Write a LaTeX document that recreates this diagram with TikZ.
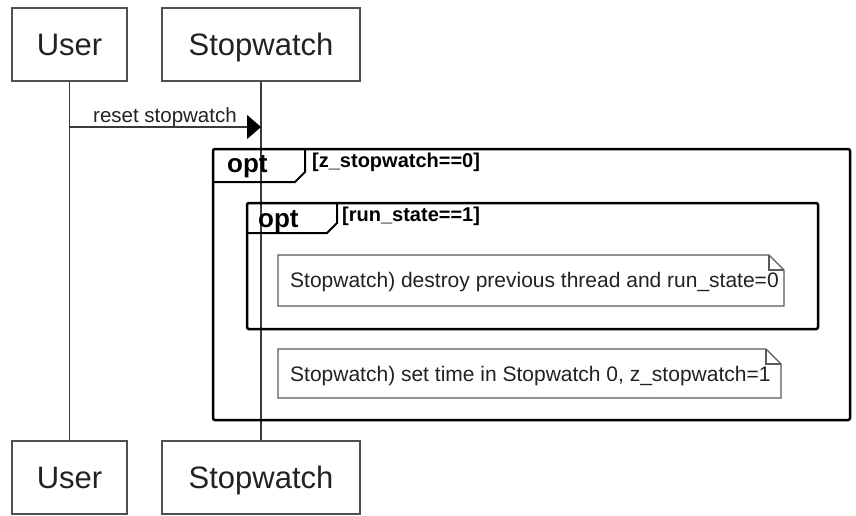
\documentclass[tikz,border=0pt]{standalone}
\usepackage{fontspec}
\setmainfont{Liberation Sans}
\usetikzlibrary{arrows.meta}
\definecolor{boxgray}{HTML}{505050}
\definecolor{linegray}{HTML}{3A3A3A}
\definecolor{notegray}{HTML}{5A5A5A}
\definecolor{txt}{HTML}{222222}
\begin{document}
\begin{tikzpicture}[x=1pt,y=-1pt,
  participant/.style={draw=boxgray, line width=1.3pt, minimum width=#1, minimum height=73pt,
    inner sep=0pt, text=txt, font=\fontsize{31}{31}\selectfont, text height=22pt, text depth=0pt},
  lifeline/.style={draw=linegray, line width=1.4pt},
  msg/.style={draw=linegray, line width=1.3pt, -{Triangle[length=14pt,width=24pt,color=black]}},
  msglabel/.style={inner sep=0pt, text=txt, font=\fontsize{20.5}{20.5}\selectfont},
  framebox/.style={draw=black, line width=2.5pt, rounded corners=2pt, inner sep=0pt},
  tabline/.style={draw=black, line width=2pt},
  optlabel/.style={inner sep=0pt, text=black, font=\fontsize{26}{26}\selectfont\bfseries},
  condlabel/.style={inner sep=0pt, text=black, font=\fontsize{20}{20}\selectfont\bfseries},
  noteshape/.style={draw=notegray, line width=1.2pt, fill=white},
  notetext/.style={inner sep=0pt, text=txt, font=\fontsize{21}{21}\selectfont}
]
\useasboundingbox (0,0) rectangle (856,515);

% participants
\node[participant=115pt] (ut) at (69.5,44.5) {User};
\node[participant=198pt] (st) at (261,44.5) {Stopwatch};
\node[participant=115pt] (ub) at (69.5,477.5) {User};
\node[participant=198pt] (sb) at (261,477.5) {Stopwatch};

% lifelines
\draw[lifeline] (ut.south) -- (ub.north);
\draw[lifeline] (st.south) -- (sb.north);

% message
\coordinate (ms) at (69.5,127);
\coordinate (me) at (261,127);
\draw[msg] (ms) -- (me);
\node[msglabel, anchor=base west] (ml) at (93,122) {reset stopwatch};

% outer frame
\node[framebox, minimum width=637pt, minimum height=271pt] (f1) at (531.5,284.5) {};
\coordinate (t1a) at (213,182);
\coordinate (t1b) at (295,182);
\coordinate (t1c) at (305,172);
\coordinate (t1d) at (305,149);
\draw[tabline] (t1a) -- (t1b) -- (t1c) -- (t1d);
\node[optlabel, anchor=base west] (o1) at (227,172) {opt};
\node[condlabel, anchor=base west] (c1) at (312,167) {[z\_stopwatch==0]};

% inner frame
\node[framebox, minimum width=571pt, minimum height=126pt] (f2) at (532.5,266) {};
\coordinate (t2a) at (247,233);
\coordinate (t2b) at (327,233);
\coordinate (t2c) at (337,223);
\coordinate (t2d) at (337,203);
\draw[tabline] (t2a) -- (t2b) -- (t2c) -- (t2d);
\node[optlabel, anchor=base west] (o2) at (258,227) {opt};
\node[condlabel, anchor=base west] (c2) at (342,221) {[run\_state==1]};

% note 1
\draw[noteshape] (278,255) -- (769,255) -- (784,270) -- (784,306) -- (278,306) -- cycle;
\draw[noteshape, fill=none] (769,255) -- (769,270) -- (784,270);
\node[notetext, anchor=base west] (n1) at (290,287) {Stopwatch) destroy previous thread and run\_state=0};

% note 2
\draw[noteshape] (278,349) -- (766,349) -- (781,364) -- (781,398) -- (278,398) -- cycle;
\draw[noteshape, fill=none] (766,349) -- (766,364) -- (781,364);
\node[notetext, anchor=base west] (n2) at (290,381) {Stopwatch) set time in Stopwatch 0, z\_stopwatch=1};
\end{tikzpicture}
\end{document}
